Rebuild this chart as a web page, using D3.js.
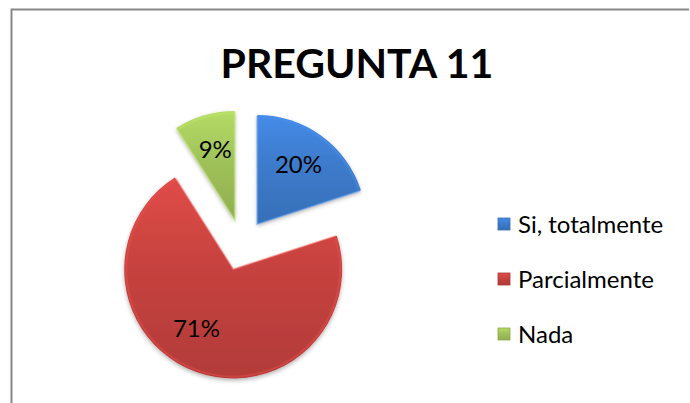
<!DOCTYPE html>
<html lang="es">
<head>
<meta charset="UTF-8" />
<title>PREGUNTA 11</title>
<script src="https://d3js.org/d3.v7.min.js"></script>
<style>
  body { margin: 0; background: #fff; }
  svg { display: block; font-family: Lato, "Open Sans", sans-serif; }
</style>
</head>
<body>
<div id="chart"></div>
<script>
// data
const categories = ["Si, totalmente", "Parcialmente", "Nada"];
const values = [20, 71, 9];
const pctLabels = ["20%", "71%", "9%"];
const colors = ["#3d7bcc", "#c6423f", "#a0c25a"];

const W = 690, H = 403;
const cx = 242, cy = 245, radius = 109, explode = 26;

const svg = d3.select("#chart").append("svg")
    .attr("width", W)
    .attr("height", H);

const defs = svg.append("defs");

colors.forEach((c, i) => {
    const g = defs.append("linearGradient")
        .attr("id", "grad" + i)
        .attr("x1", 0).attr("y1", 0).attr("x2", 0).attr("y2", 1);
    g.append("stop").attr("offset", "0%").attr("stop-color", d3.color(c).brighter(0.35));
    g.append("stop").attr("offset", "45%").attr("stop-color", c);
    g.append("stop").attr("offset", "100%").attr("stop-color", d3.color(c).darker(0.3));
});

const shadow = defs.append("filter").attr("id", "shadow")
    .attr("x", "-20%").attr("y", "-20%").attr("width", "140%").attr("height", "140%");
shadow.append("feDropShadow")
    .attr("dx", 0).attr("dy", 2).attr("stdDeviation", 2)
    .attr("flood-color", "#000").attr("flood-opacity", 0.3);

// frame (only left and top edges visible in the crop)
svg.append("path")
    .attr("d", `M11.5,${H} V9.5 H689`)
    .attr("fill", "none")
    .attr("stroke", "#888")
    .attr("stroke-width", 2);

// title
svg.append("text")
    .attr("x", 357)
    .attr("y", 78)
    .attr("text-anchor", "middle")
    .attr("font-weight", "bold")
    .attr("font-size", 41)
    .attr("fill", "#000")
    .text("PREGUNTA 11");

// pie
const pie = d3.pie().sort(null).value(d => d);
const arcs = pie(values);
const arc = d3.arc().innerRadius(0).outerRadius(radius);
const labelArc = d3.arc().innerRadius(70).outerRadius(70);

const pieG = svg.append("g").attr("transform", `translate(${cx},${cy})`);

const slice = pieG.selectAll("g.slice")
    .data(arcs)
    .enter().append("g")
    .attr("class", "slice")
    .attr("transform", d => {
        const mid = (d.startAngle + d.endAngle) / 2;
        return `translate(${Math.sin(mid) * explode},${-Math.cos(mid) * explode})`;
    });

slice.append("path")
    .attr("d", arc)
    .attr("fill", (d, i) => `url(#grad${i})`)
    .attr("filter", "url(#shadow)");

slice.append("path")
    .attr("d", d3.arc().innerRadius(0).outerRadius(radius - 2))
    .attr("fill", "none")
    .attr("stroke", (d, i) => d3.color(colors[i]).brighter(0.5))
    .attr("stroke-opacity", 0.45)
    .attr("stroke-width", 2);

slice.append("text")
    .attr("transform", d => {
        const [x, y] = labelArc.centroid(d);
        // the big slice's label sits a bit further round, as in the source
        return d.data === 71 ? `translate(${x - 13},${y - 7})` : `translate(${x},${y - 3})`;
    })
    .attr("text-anchor", "middle")
    .attr("dy", "0.36em")
    .attr("font-size", 24)
    .attr("fill", "#000")
    .text((d, i) => pctLabels[i]);

// legend
const legend = svg.append("g").attr("transform", "translate(498,218)");
const item = legend.selectAll("g")
    .data(categories)
    .enter().append("g")
    .attr("transform", (d, i) => `translate(0,${i * 55})`);

item.append("rect")
    .attr("width", 12)
    .attr("height", 12)
    .attr("fill", (d, i) => `url(#grad${i})`)
    .attr("stroke", (d, i) => d3.color(colors[i]).darker(0.4))
    .attr("stroke-width", 0.8);

item.append("text")
    .attr("x", 20)
    .attr("y", 6)
    .attr("dy", "0.36em")
    .attr("font-size", 24)
    .attr("fill", "#000")
    .text(d => d);
</script>
</body>
</html>
